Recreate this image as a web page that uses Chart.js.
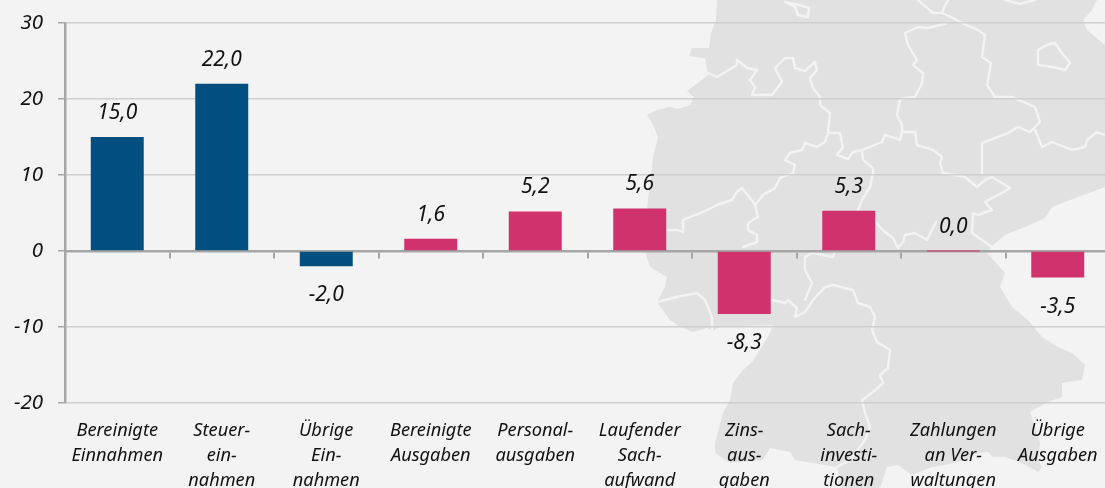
<!DOCTYPE html>
<html lang="de">
<head>
<meta charset="utf-8">
<title>Einnahmen und Ausgaben</title>
<script src="https://cdn.jsdelivr.net/npm/chart.js@4"></script>
<style>
  html, body { margin: 0; padding: 0; width: 1105px; height: 488px; overflow: hidden; background: #f3f3f3; }
  #map { position: absolute; left: 0; top: 0; }
  #map .land { fill: #e1e1e1; stroke: none; }
  #map .border { fill: none; stroke: #f3f3f3; stroke-width: 2.4; stroke-linejoin: round; stroke-linecap: round; }
  #myBarChart { position: absolute; left: 0; top: 0; }
</style>
</head>
<body>
<!-- Deutschlandkarte als Hintergrund -->
<svg id="map" width="1105" height="488" viewBox="0 0 1105 488">
  <polygon class="land" points="717,0 716,20 711,33 709,48 692,48 689,56 705,58 708,75 698,83 687,91 694,97 690,105 678,109 670,107 657,110 647,115 653,125 658,137 653,157 652,168 648,200 645,225 645,252 650,267 667,277 665,287 657,302 670,320 680,327 693,332 707,328 713,331 720,327 773,325 770,333 760,350 752,362 743,370 733,383 730,400 723,413 715,443 715,453 730,463 763,460 770,448 790,452 795,460 837,467 842,488 880,488 887,467 898,465 912,475 932,467 945,465 965,460 978,453 988,452 993,457 1005,457 1022,463 1038,472 1042,467 1038,460 1040,443 1030,412 1048,402 1062,397 1062,383 1082,380 1085,365 1072,353 1058,347 1042,337 1028,320 1012,307 1000,287 1005,273 987,253 993,245 1005,235 1025,227 1045,218 1052,207 1078,197 1105,187 1105,45 1087,30 1083,20 1092,10 1097,0"/>
  <polyline class="border" points="708,73 717,77 737,65 737,60 747,68 757,70 750,80 755,87 752,95 772,95 782,82 775,68 785,58 793,58 795,68 805,71 815,62 817,70 810,78 813,88 820,97 820,105 830,113 828,133 825,142 817,147 805,143 802,150 790,153 785,160 795,165 793,173 780,178 775,188 763,195 755,205 758,217 748,223 748,230 757,235 757,242 743,247"/>
  <polyline class="border" points="828,133 840,133 843,147 837,155 848,159 853,152 862,150 882,142 885,135 892,137 900,140 902,132 915,132 917,145 933,150 942,157 940,163 943,173 965,177 977,187 985,180 992,177 1010,188 998,195 985,202 992,210 978,215 973,213 972,233 982,240 992,247"/>
  <polyline class="border" points="755,205 750,198 742,188 737,192 732,200 717,205 703,212 690,217 683,220 683,232 678,230 667,230"/>
  <polyline class="border" points="862,150 863,160 873,168 873,173 870,187 862,200 858,210"/>
  <polyline class="border" points="875,222 885,232 893,238 898,248 903,242 905,235 915,233 927,240 932,230 936,222"/>
  <polyline class="border" points="657,302 677,297 697,293 705,300 712,317 712,330"/>
  <polyline class="border" points="772,300 785,303 788,300 797,308 795,317 805,312 813,300 825,287 833,285 853,290 858,303 870,307 875,317 872,330 877,342 890,350 888,368 880,375 883,383 873,392 862,400 865,413 870,427 865,440 850,460 837,467"/>
  <polyline class="border" points="835,250 833,257 812,253 805,257 805,270 812,283 805,300"/>
  <polyline class="border" points="918,0 933,13 942,13 953,18 962,23 978,30 985,35 982,57 991,63 987,85 995,97 1012,97 1035,107 1040,122 1030,132 1018,127 1008,133 998,137 982,143 982,173"/>
  <polyline class="border" points="947,23 928,28 918,27 905,33 908,45 917,60 913,65 923,73 922,83 915,97 900,99 897,115 902,125 902,132"/>
  <polyline class="border" points="1035,130 1042,147 1052,142 1072,150 1085,147 1087,140 1097,132 1105,135"/>
  <polyline class="border" points="948,0 943,10 942,13"/>
  <polyline class="border" points="1005,0 1020,4 1035,0"/>
  <polygon class="border" points="1038,50 1047,45 1055,43 1062,53 1070,63 1065,70 1053,67 1038,65"/>
  <polygon class="border" points="785,2 795,7 798,15 808,17 809,8 803,6"/>
</svg>
<canvas id="myBarChart" width="1120" height="488"></canvas>
<script>
const categoryLabels = [
  ['Bereinigte', 'Einnahmen'],
  ['Steuer-', 'ein-', 'nahmen'],
  ['Übrige', 'Ein-', 'nahmen'],
  ['Bereinigte', 'Ausgaben'],
  ['Personal-', 'ausgaben'],
  ['Laufender', 'Sach-', 'aufwand'],
  ['Zins-', 'aus-', 'gaben'],
  ['Sach-', 'investi-', 'tionen'],
  ['Zahlungen', 'an Ver-', 'waltungen'],
  ['Übrige', 'Ausgaben']
];
const changeValues = [15.0, 22.0, -2.0, 1.6, 5.2, 5.6, -8.3, 5.3, 0.0, -3.5];
const sideGroups = ['ein', 'ein', 'ein', 'aus', 'aus', 'aus', 'aus', 'aus', 'aus', 'aus'];

const fontFamily = '"Noto Sans", sans-serif';

// Werte über bzw. unter den Balken
const valueLabels = {
  id: 'valueLabels',
  afterDatasetsDraw(chart) {
    const ctx = chart.ctx;
    ctx.save();
    ctx.font = `italic 21px ${fontFamily}`;
    ctx.fillStyle = '#111';
    ctx.textAlign = 'center';
    ctx.textBaseline = 'middle';
    chart.getDatasetMeta(0).data.forEach((bar, i) => {
      const v = changeValues[i];
      const text = v.toFixed(1).replace('.', ',');
      const y = v < 0 ? bar.y + 29 : bar.y - 24;
      ctx.fillText(text, bar.x, y);
    });
    ctx.restore();
  }
};

new Chart(document.getElementById('myBarChart').getContext('2d'), {
  type: 'bar',
  data: {
    labels: categoryLabels,
    datasets: [{
      data: changeValues,
      xAxisID: 'x',
      backgroundColor: c => sideGroups[c.dataIndex] === 'ein' ? '#004f80' : '#cf326c',
      barPercentage: 0.507,
      categoryPercentage: 1,
      minBarLength: 1
    }]
  },
  plugins: [valueLabels],
  options: {
    responsive: false,
    animation: false,
    layout: { padding: { top: 23, right: 10, left: 0, bottom: 0 } },
    plugins: {
      legend: { display: false },
      title: { display: false },
      tooltip: { enabled: false }
    },
    scales: {
      y: {
        min: -20,
        max: 30,
        afterFit: s => { s.width = 65; s.paddingTop = 0; s.paddingBottom = 0; },
        ticks: {
          stepSize: 10,
          padding: 15,
          color: '#111',
          font: { family: fontFamily, size: 20.5, style: 'italic' }
        },
        grid: {
          color: c => c.tick.value === 0 ? 'rgba(0,0,0,0)' : '#cfcfcf',
          lineWidth: 1.5,
          tickLength: 7,
          tickColor: '#a6a6a6'
        },
        border: { color: '#a6a6a6', width: 2.5 }
      },
      // Achse auf der Nulllinie, nur Striche
      x: {
        position: { y: 0 },
        ticks: { display: false },
        grid: { drawOnChartArea: false, tickLength: 6, tickColor: '#a6a6a6', lineWidth: 2 },
        border: { color: '#a6a6a6', width: 2.5 }
      },
      // Beschriftung am unteren Rand
      xLabels: {
        type: 'category',
        position: 'bottom',
        labels: categoryLabels,
        afterFit: s => { s.height = 85; },
        grid: { display: false },
        border: { display: false },
        ticks: {
          autoSkip: false,
          maxRotation: 0,
          padding: 7,
          color: '#111',
          font: { family: fontFamily, size: 18.2, style: 'italic', lineHeight: '25px' }
        }
      }
    }
  }
});
</script>
</body>
</html>
